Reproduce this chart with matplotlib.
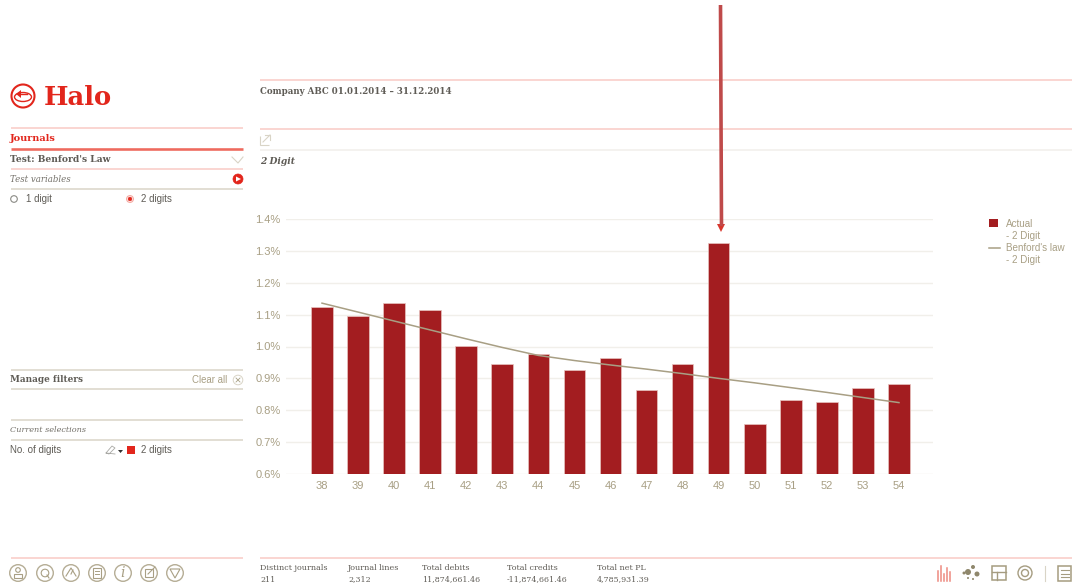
import matplotlib
matplotlib.use("Agg")
import matplotlib.pyplot as plt
from matplotlib.patches import Circle, Rectangle, Polygon, Ellipse

categories = [38, 39, 40, 41, 42, 43, 44, 45, 46, 47, 48, 49, 50, 51, 52, 53, 54]
actual = [1.125, 1.095, 1.138, 1.115, 1.002, 0.945, 0.975, 0.925, 0.965, 0.862, 0.945, 1.325, 0.757, 0.833, 0.825, 0.870, 0.882]
benford = [1.136, 1.108, 1.080, 1.052, 1.024, 0.997, 0.972, 0.956, 0.942, 0.929, 0.915, 0.900, 0.886, 0.871, 0.856, 0.840, 0.824]
y_ticks = [0.6, 0.7, 0.8, 0.9, 1.0, 1.1, 1.2, 1.3, 1.4]
summary_labels = ["Distinct journals", "Journal lines", "Total debits", "Total credits", "Total net PL"]
summary_values = ["211", "2,312", "11,874,661.46", "-11,874,661.46", "4,785,931.39"]
summary_x = [260, 348, 422, 507, 597]

W, H = 1075, 584
BAR = "#a31d20"
TAN = "#a89f84"
PINK = "#f9c9c4"
RED = "#e2261c"
DARK = "#5f5c56"
GRID = "#f1efea"
BEIGE = "#d9d4c6"
SERIF = "DejaVu Serif"
SANS = "Liberation Sans"

fig = plt.figure(figsize=(W / 100, H / 100), dpi=100, facecolor="white")

# chart axes, placed in pixel coordinates
L, R, T, B = 286, 933, 219, 474
ax = fig.add_axes([L / W, 1 - B / H, (R - L) / W, (B - T) / H])
ax.set_ylim(0.6, 1.4)
ax.set_xlim(38 - 36 / 36.06, 38 + 611 / 36.06)
ax.bar(categories, [v - 0.6 for v in actual], bottom=0.6, width=0.6, color=BAR,
       edgecolor="#e8c4c0", linewidth=0.5, zorder=3)
ax.plot(categories, benford, color="#a89f84", lw=1.1, zorder=4)
ax.set_yticks(y_ticks)
ax.set_yticklabels([f"{t:.1f}%" for t in y_ticks], fontsize=8, color=TAN, fontfamily=SANS)
ax.set_xticks(categories)
ax.set_xticklabels([str(c) for c in categories], fontsize=8, color=TAN, fontfamily=SANS)
ax.tick_params(length=0, pad=5)
ax.tick_params(axis="y", pad=4)
ax.grid(axis="y", color=GRID, lw=1)
ax.set_axisbelow(True)
for s in ax.spines.values():
    s.set_visible(False)
ax.patch.set_alpha(0)

# overlay in pixel coordinates for the surrounding page
ov = fig.add_axes([0, 0, 1, 1], zorder=5)
ov.set_xlim(0, W)
ov.set_ylim(H, 0)
ov.axis("off")


def hl(x0, x1, y, c=PINK, lw=1.5):
    ov.plot([x0, x1], [y, y], color=c, lw=lw * 0.72, solid_capstyle="butt")


def txt(x, y, s, size=7, color=DARK, family=SANS, **kw):
    ov.text(x, y, s, fontsize=size, color=color, family=family, va="center", **kw)


def ring(x, y, r=7.5, c=TAN, lw=1.0, fc="none"):
    ov.add_patch(Circle((x, y), r, fc=fc, ec=c, lw=lw))


# top rules
hl(260, 1072, 80)
hl(260, 1072, 129)
hl(260, 1072, 150, GRID)
hl(11, 243, 128)
hl(11, 243, 149, "#ee6a5e", 2.6)
hl(11, 243, 169)
hl(11, 243, 189, BEIGE)
hl(11, 243, 370, BEIGE)
hl(11, 243, 389, BEIGE)
hl(11, 243, 420, BEIGE)
hl(11, 243, 440, BEIGE)
hl(11, 243, 558)
hl(260, 1072, 558)

# logo
ring(23, 96, 11.5, RED, 1.5)
ov.add_patch(Ellipse((23, 97), 17, 9, fc="none", ec=RED, lw=1))
ov.plot([19, 27], [94, 94], color=RED, lw=1)
ov.add_patch(Polygon([[16, 94], [21, 90], [21, 98]], fc=RED, ec="none"))
txt(44, 97.5, "Halo", 18.6, RED, SERIF, fontweight="bold")

# left panel
txt(10, 138.5, "Journals", 7, RED, SERIF, fontweight="bold")
txt(10, 160, "Test: Benford's Law", 6.55, DARK, SERIF, fontweight="bold")
ov.plot([232, 238, 243], [157, 163, 157], color=BEIGE, lw=0.8)
txt(10, 179.5, "Test variables", 6.2, "#75726b", SERIF, fontstyle="italic")
ring(238, 179, 5, RED, 0.5, RED)
ov.add_patch(Polygon([[236, 176.5], [241, 179], [236, 181.5]], fc="white", ec="none"))
ring(14, 199, 3.3, "#8a8a85", 0.8)
txt(26, 199, "1 digit", 7)
ring(130, 199, 3.4, "#f4a9a2", 0.8)
ring(130, 199, 1.8, RED, 0.5, RED)
txt(141, 199, "2 digits", 7)

txt(10, 380, "Manage filters", 6.4, DARK, SERIF, fontweight="bold")
txt(192, 380, "Clear all", 6.9, TAN)
ring(238, 380, 4.8, BEIGE, 0.7)
ov.plot([236, 240], [378, 382], color=TAN, lw=0.6)
ov.plot([236, 240], [382, 378], color=TAN, lw=0.6)
txt(10, 430.5, "Current selections", 5.9, "#75726b", SERIF, fontstyle="italic")
txt(10, 450, "No. of digits", 7)
ov.plot([106, 112, 115, 109, 106, 115], [453, 446, 448, 454, 453, 454], color="#a9a9a5", lw=0.6)
ov.add_patch(Polygon([[118, 450], [123, 450], [120.5, 453]], fc="#333333", ec="none"))
ov.add_patch(Rectangle((127, 446), 8, 8, fc=RED, ec="none"))
txt(141, 450, "2 digits", 7)

# header
txt(260, 91, "Company ABC 01.01.2014 – 31.12.2014", 6.25, DARK, SERIF, fontweight="bold")
ov.add_patch(Polygon([[260, 136], [260, 145], [269, 145]], closed=False, fc="none", ec=BEIGE, lw=0.8))
ov.plot([263, 270], [142, 135], color=BEIGE, lw=0.8)
ov.plot([265, 270, 270], [135, 135, 140], color=BEIGE, lw=0.8)
txt(260, 161, "2 Digit", 6.6, DARK, SERIF, fontweight="bold", fontstyle="italic")

# legend
ov.add_patch(Rectangle((989, 219), 9, 8, fc=BAR, ec="none"))
txt(1006, 224, "Actual", 7.1, TAN)
txt(1006, 236, "- 2 Digit", 7.1, TAN)
ov.plot([989, 1000], [248, 248], color=TAN, lw=1.1)
txt(1006, 248, "Benford's law", 7.1, TAN)
txt(1006, 260, "- 2 Digit", 7.1, TAN)

# arrow annotation
ov.plot([720.5, 721.5], [5, 226], color="#bf4a4a", lw=2.6, solid_capstyle="butt")
ov.add_patch(Polygon([[717, 224], [725, 224], [721, 232]], fc="#d8362c", ec="none"))

# footer
for x, a, b in zip(summary_x, summary_labels, summary_values):
    txt(x, 568, a, 5.8, DARK, SERIF)
    txt(x, 579.5, b, 5.7, DARK, SERIF)

# footer icons, left
for x in [18, 45, 71, 97, 123, 149, 175]:
    ring(x, 573, 8.3, "#b5ad95", 1)
ring(18, 570, 2.3, TAN, 0.8)
ov.add_patch(Rectangle((14, 574), 8, 4, fc="none", ec=TAN, lw=0.8))
ring(45, 573, 3.8, TAN, 0.8)
ov.plot([47, 49], [575, 578], color=TAN, lw=0.8)
ov.plot([66, 71, 76], [576, 568, 576], color=TAN, lw=0.8)
ov.plot([71, 73], [574, 570], color=TAN, lw=0.8)
ov.add_patch(Rectangle((93, 568), 8, 10, fc="none", ec=TAN, lw=0.8))
ov.plot([95, 99], [571, 571], color=TAN, lw=0.7)
ov.plot([95, 99], [574, 574], color=TAN, lw=0.7)
ov.text(123, 573, "i", fontsize=10, family=SERIF, fontstyle="italic", color=TAN, ha="center", va="center")
ov.add_patch(Rectangle((145, 569), 8, 8, fc="none", ec=TAN, lw=0.8))
ov.plot([148, 155], [574, 567], color=TAN, lw=0.8)
ov.add_patch(Polygon([[170, 569], [180, 569], [175, 578]], fc="none", ec=TAN, lw=0.8))

# footer icons, right
for x, h in zip([938, 941, 944, 947, 950], [10, 15, 7, 13, 9]):
    ov.plot([x, x], [581, 581 - h], color="#ee8a80", lw=1.1)
for x, y, r in [(968, 572, 3), (973, 567, 2), (977, 574, 2.5), (968, 578, 1), (973, 579, 1), (964, 573, 1.5)]:
    ov.add_patch(Circle((x, y), r, fc="#8f876c", ec="none"))
ov.add_patch(Rectangle((991.5, 566), 14, 14, fc="none", ec="#a59c80", lw=1.1))
ov.plot([991.5, 1005.5], [572, 572], color="#a59c80", lw=1)
ov.plot([997, 997], [572, 580], color="#a59c80", lw=1)
ring(1025, 573, 7, "#a59c80", 1)
ring(1025, 573, 3.5, "#a59c80", 1)
ov.plot([1045, 1045], [566, 581], color=BEIGE, lw=0.8)
ov.add_patch(Rectangle((1058, 566), 13, 15, fc="none", ec="#a59c80", lw=1.1))
for y in [570, 573.5, 577]:
    ov.plot([1060.5, 1068.5], [y, y], color="#a59c80", lw=0.8)

fig.savefig("out.png", dpi=100, facecolor="white")
